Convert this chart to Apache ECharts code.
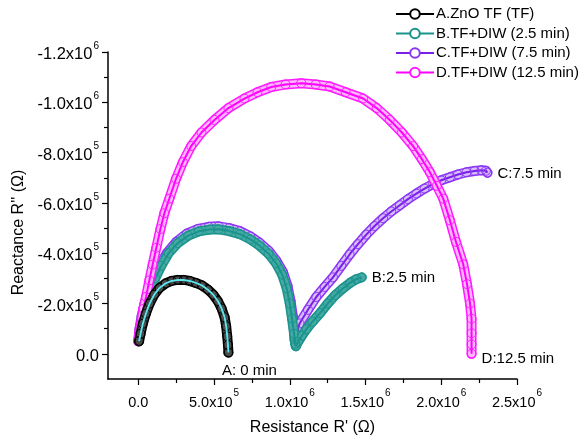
<!DOCTYPE html>
<html>
<head>
<meta charset="utf-8">
<script src="https://cdn.jsdelivr.net/npm/echarts@6/dist/echarts.min.js"></script>
<style>
  html, body {margin:0; padding:0; background:#fff;}
  #chart {width:585px; height:441px;}
</style>
</head>
<body>
<div id="chart"></div>
<script>
// Nyquist data: [R' (ohm), R'' (ohm)]
const seriesNames = ['A.ZnO TF (TF)', 'B.TF+DIW (2.5 min)', 'C.TF+DIW (7.5 min)', 'D.TF+DIW (12.5 min)'];
const endLabels = ['A: 0 min', 'B:2.5 min', 'C:7.5 min', 'D:12.5 min'];

const dataA = [
    [5e3, -5.0e4], [1.5e4, -8.0e4], [3.0e4, -1.2e5], [5.0e4, -1.6e5], [7.5e4, -2.0e5],
    [1.05e5, -2.35e5], [1.4e5, -2.62e5], [1.8e5, -2.8e5], [2.2e5, -2.9e5], [2.6e5, -2.94e5],
    [3.0e5, -2.94e5], [3.4e5, -2.9e5], [3.8e5, -2.82e5], [4.2e5, -2.72e5], [4.6e5, -2.55e5],
    [4.95e5, -2.35e5], [5.25e5, -2.1e5], [5.5e5, -1.8e5], [5.7e5, -1.45e5], [5.8e5, -1.1e5],
    [5.87e5, -7.0e4], [5.92e5, -3.5e4], [5.95e5, -5e3]
];
const dataB = [
    [3e3, -5.0e4], [1.4e4, -1.0e5], [3.0e4, -1.5e5], [5.2e4, -2.0e5], [8.0e4, -2.5e5],
    [1.12e5, -3.0e5], [1.52e5, -3.5e5], [2.0e5, -4.0e5], [2.6e5, -4.4e5], [3.3e5, -4.7e5],
    [4.0e5, -4.87e5], [4.7e5, -4.94e5], [5.3e5, -4.95e5], [6.0e5, -4.88e5], [6.7e5, -4.76e5],
    [7.4e5, -4.55e5], [8.0e5, -4.3e5], [8.6e5, -3.98e5], [9.1e5, -3.6e5], [9.5e5, -3.15e5],
    [9.8e5, -2.6e5], [1.0e6, -2.0e5], [1.015e6, -1.4e5], [1.028e6, -8.0e4], [1.036e6, -4.0e4],
    [1.04e6, -3.0e4], [1.055e6, -4.8e4], [1.08e6, -7.2e4], [1.11e6, -9.8e4], [1.15e6, -1.28e5],
    [1.2e6, -1.62e5], [1.25e6, -2.0e5], [1.3e6, -2.33e5], [1.35e6, -2.6e5], [1.4e6, -2.83e5],
    [1.44e6, -2.97e5], [1.475e6, -3.04e5]
];
const dataC = [
    [0, -5.0e4], [8e3, -1.0e5], [2.2e4, -1.5e5], [4.2e4, -2.0e5], [6.8e4, -2.5e5],
    [1.0e5, -3.0e5], [1.4e5, -3.5e5], [1.88e5, -4.0e5], [2.5e5, -4.45e5], [3.2e5, -4.78e5],
    [3.95e5, -4.97e5], [4.65e5, -5.05e5], [5.3e5, -5.07e5], [6.0e5, -5.0e5], [6.7e5, -4.88e5],
    [7.4e5, -4.67e5], [8.0e5, -4.42e5], [8.6e5, -4.1e5], [9.1e5, -3.72e5], [9.55e5, -3.25e5],
    [9.85e5, -2.7e5], [1.005e6, -2.1e5], [1.02e6, -1.5e5], [1.028e6, -9.0e4], [1.032e6, -5.5e4],
    [1.045e6, -8.0e4], [1.065e6, -1.21e5], [1.12e6, -1.75e5], [1.175e6, -2.26e5], [1.23e6, -2.66e5],
    [1.285e6, -3.04e5], [1.34e6, -3.5e5], [1.395e6, -3.95e5], [1.45e6, -4.36e5], [1.505e6, -4.74e5],
    [1.56e6, -5.08e5], [1.616e6, -5.39e5], [1.67e6, -5.66e5], [1.726e6, -5.91e5], [1.78e6, -6.15e5],
    [1.836e6, -6.37e5], [1.89e6, -6.57e5], [1.947e6, -6.76e5], [2.0e6, -6.9e5], [2.057e6, -7.02e5],
    [2.11e6, -7.13e5], [2.167e6, -7.22e5], [2.22e6, -7.27e5], [2.266e6, -7.3e5], [2.295e6, -7.28e5],
    [2.305e6, -7.2e5]
];
const dataD = [
    [0, -5.0e4], [7e3, -9.0e4], [1.8e4, -1.2e5], [3.3e4, -1.79e5], [5.1e4, -2.26e5],
    [7.3e4, -2.92e5], [9.5e4, -3.55e5], [1.19e5, -4.22e5], [1.46e5, -4.96e5], [1.72e5, -5.59e5],
    [2.05e5, -6.17e5], [2.49e5, -6.96e5], [2.94e5, -7.62e5], [3.49e5, -8.26e5], [4.17e5, -8.8e5],
    [5.03e5, -9.3e5], [5.95e5, -9.77e5], [7.01e5, -1.015e6], [7.87e5, -1.04e6], [8.78e5, -1.061e6],
    [9.72e5, -1.071e6], [1.076e6, -1.076e6], [1.171e6, -1.071e6], [1.263e6, -1.063e6], [1.369e6, -1.04e6],
    [1.484e6, -1.015e6], [1.574e6, -9.77e5], [1.66e6, -9.3e5], [1.74e6, -8.8e5], [1.814e6, -8.26e5],
    [1.872e6, -7.74e5], [1.925e6, -7.22e5], [1.971e6, -6.68e5], [2.013e6, -6.17e5], [2.057e6, -5.31e5],
    [2.097e6, -4.45e5], [2.145e6, -3.56e5], [2.17e6, -2.77e5], [2.19e6, -2.0e5], [2.2e6, -1.4e5],
    [2.2e6, -8.2e4], [2.2e6, -3.8e4], [2.2e6, 0]
];

const xTicks = [0, 5e5, 1e6, 1.5e6, 2e6, 2.5e6];
const xTickLabels = ['0.0', '5.0x10^5', '1.0x10^6', '1.5x10^6', '2.0x10^6', '2.5x10^6'];
const xMinorTicks = [2.5e5, 7.5e5, 1.25e6, 1.75e6, 2.25e6];
const yTicks = [0, -2e5, -4e5, -6e5, -8e5, -1e6, -1.2e6];
const yTickLabels = ['0.0', '-2.0x10^5', '-4.0x10^5', '-6.0x10^5', '-8.0x10^5', '-1.0x10^6', '-1.2x10^6'];
const yMinorTicks = [-1e5, -3e5, -5e5, -7e5, -9e5, -1.1e6];

const FONT = '"Liberation Sans", Arial, sans-serif';

function tickFormatter(ticks, labels) {
    return v => {
        let i = ticks.findIndex(t => Math.abs(t - v) < 1);
        if (i < 0) return '';
        let parts = labels[i].split('^');
        if (parts.length == 1) return '{m|' + parts[0] + '}';
        return '{m|' + parts[0] + '}{s|' + parts[1] + '}';
    };
}
function tickRich(size) {
    return {
        m: {fontSize: size, fontFamily: FONT, color: '#000', lineHeight: 22, verticalAlign: 'bottom'},
        s: {fontSize: 10, fontFamily: FONT, color: '#000', lineHeight: 11, verticalAlign: 'top', padding: [0, 0, 0, 1]}
    };
}

// look of each curve: ring colour, band fill, centre (fit) line
const styles = [
    {edge: '#000000', fill: '#4a4a4a', line: '#000000', fit: '#5fe4ec', z: 40},
    {edge: '#1b938d', fill: '#45aaa4', line: '#1b938d', fit: null, z: 20},
    {edge: '#8b35f5', fill: '#d6bcfb', line: '#7a1fe8', fit: null, z: 10},
    {edge: '#ff1aff', fill: '#ffb8ff', line: '#ff00ff', fit: null, z: 30}
];
const labelPlace = [
    {position: 'bottom', distance: 6, offset: [21, 0]},
    {position: 'right', distance: 5, offset: [0, 0]},
    {position: 'right', distance: 5, offset: [0, 1]},
    {position: 'right', distance: 5, offset: [0, 5]}
];

let allData = [dataA, dataB, dataC, dataD];
let series = [];
allData.forEach((pts, i) => {
    let st = styles[i];
    series.push({
        type: 'line', name: 'band' + i, data: pts, symbol: 'none', silent: true, z: st.z,
        lineStyle: {color: st.edge, width: 10, cap: 'round', join: 'round'}
    });
    series.push({
        type: 'line', name: 'bandfill' + i, data: pts, symbol: 'none', silent: true, z: st.z + 1,
        lineStyle: {color: st.fill, width: 7, cap: 'round', join: 'round'}
    });
    series.push({
        type: 'line', name: seriesNames[i], z: st.z + 2,
        data: pts.map((p, k) => k < pts.length - 1 ? p : {
            value: p,
            label: Object.assign({
                show: true, formatter: endLabels[i], color: '#000',
                fontSize: 15, fontFamily: FONT
            }, labelPlace[i])
        }),
        symbol: 'circle', symbolSize: 9, showAllSymbol: true,
        lineStyle: {color: st.line, width: 2},
        itemStyle: {color: 'rgba(255,255,255,0)', borderColor: st.edge, borderWidth: 1},
        emphasis: {disabled: true}
    });
    if (st.fit) {
        series.push({
            type: 'line', name: 'fit' + i, data: pts, symbol: 'none', silent: true, z: st.z + 3,
            lineStyle: {color: st.fit, width: 2}
        });
    }
});

let chart = echarts.init(document.getElementById('chart'), null, {renderer: 'canvas'});
chart.setOption({
    animation: false,
    backgroundColor: '#fff',
    grid: {left: 108, right: 68, top: 52, bottom: 58},
    legend: {
        orient: 'vertical', left: 395, top: 6, padding: 0,
        itemWidth: 38, itemHeight: 12, itemGap: 3.5,
        textStyle: {fontSize: 15, fontFamily: FONT, color: '#000', lineHeight: 16, padding: [0, 0, 0, -3]},
        data: seriesNames.map(n => ({name: n, itemStyle: {color: '#fff'}}))
    },
    xAxis: [{
        type: 'value', min: -2e5, max: 2.5e6, position: 'bottom',
        name: "Resistance R' (Ω)", nameLocation: 'middle', nameGap: 41,
        nameTextStyle: {fontSize: 16, fontFamily: FONT, color: '#000'},
        axisLine: {show: true, onZero: false, lineStyle: {color: '#000', width: 1.5}},
        axisTick: {show: true, customValues: xTicks, length: 6, lineStyle: {color: '#000', width: 1.2}},
        axisLabel: {customValues: xTicks, margin: 9, formatter: tickFormatter(xTicks, xTickLabels), rich: tickRich(14.5)},
        splitLine: {show: false}
    }, {
        type: 'value', min: -2e5, max: 2.5e6, position: 'bottom',
        axisLine: {show: false, onZero: false},
        axisTick: {show: true, customValues: xMinorTicks, length: 4, lineStyle: {color: '#000', width: 1.2}},
        axisLabel: {show: false},
        splitLine: {show: false}
    }],
    yAxis: [{
        type: 'value', min: -1.2e6, max: 1e5, inverse: true, position: 'left',
        name: "Reactance R'' (Ω)", nameLocation: 'middle', nameGap: 78, nameRotate: 90,
        nameTextStyle: {fontSize: 16, fontFamily: FONT, color: '#000', padding: [0, 34, 0, 0]},
        axisLine: {show: true, onZero: false, lineStyle: {color: '#000', width: 1.5}},
        axisTick: {show: true, customValues: yTicks, length: 6, lineStyle: {color: '#000', width: 1.2}},
        axisLabel: {customValues: yTicks, margin: 9, formatter: tickFormatter(yTicks, yTickLabels), rich: tickRich(16.5)},
        splitLine: {show: false}
    }, {
        type: 'value', min: -1.2e6, max: 1e5, inverse: true, position: 'left',
        axisLine: {show: false, onZero: false},
        axisTick: {show: true, customValues: yMinorTicks, length: 4, lineStyle: {color: '#000', width: 1.2}},
        axisLabel: {show: false},
        splitLine: {show: false}
    }],
    series: series
});
</script>
</body>
</html>
